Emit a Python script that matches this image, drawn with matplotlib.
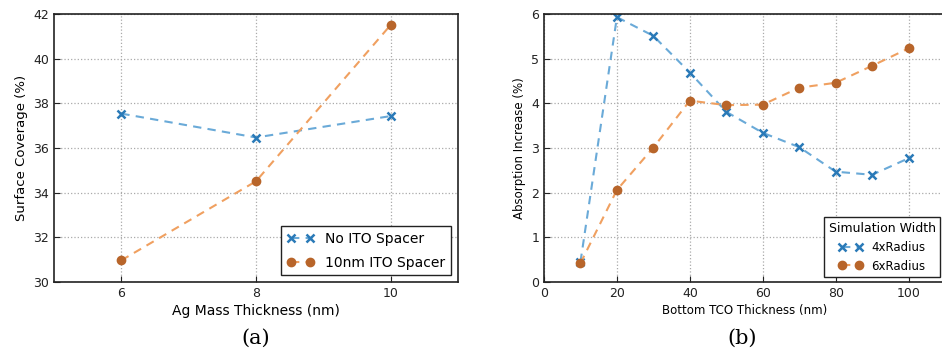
import numpy as np
import matplotlib
matplotlib.use("Agg")
from matplotlib import pyplot as plt

# panel (a)
ag_thick = [6, 8, 10]
no_ito = [37.54, 36.47, 37.43]
ito_10nm = [30.97, 34.51, 41.51]

# panel (b)
tco_thick = [10, 20, 30, 40, 50, 60, 70, 80, 90, 100]
radius4 = [0.45, 5.93, 5.51, 4.69, 3.81, 3.34, 3.02, 2.47, 2.40, 2.77]
radius6 = [0.42, 2.06, 3.01, 4.06, 3.96, 3.97, 4.35, 4.46, 4.84, 5.23]

blue = '#2a7ab8'
blue_line = '#6aaad8'
orange = '#b8652a'
orange_line = '#f0a060'

fig = plt.figure(figsize=(9.42, 3.55), dpi=100)
ax1 = fig.add_axes([54/942, 1-282/355, 404/942, 268/355])
ax2 = fig.add_axes([544/942, 1-282/355, 401/942, 268/355])

def draw(ax, x, y, mk, col, lcol, lab):
    ax.plot(x, y, linestyle=(0, (4, 3)), color=lcol, lw=1.5, marker=mk,
            markersize=6, mew=1.8 if mk == 'x' else 1,
            markerfacecolor=col, markeredgecolor=col, label=lab)

draw(ax1, ag_thick, no_ito, 'x', blue, blue_line, 'No ITO Spacer')
draw(ax1, ag_thick, ito_10nm, 'o', orange, orange_line, '10nm ITO Spacer')
ax1.set_xlim(5, 11)
ax1.set_ylim(30, 42)
ax1.set_xticks([6, 8, 10])
ax1.set_yticks(range(30, 43, 2))
ax1.set_xlabel('Ag Mass Thickness (nm)', fontsize=10, labelpad=3)
ax1.set_ylabel('Surface Coverage (%)', fontsize=9.5)
ax1.legend(loc='lower right', numpoints=2, fontsize=10, fancybox=False,
           edgecolor='#222222', framealpha=1, borderaxespad=0.5,
           labelspacing=0.7, handlelength=2.0)

draw(ax2, tco_thick, radius4, 'x', blue, blue_line, '4xRadius')
draw(ax2, tco_thick, radius6, 'o', orange, orange_line, '6xRadius')
ax2.set_xlim(0, 110)
ax2.set_ylim(0, 6)
ax2.set_xticks(range(0, 101, 20))
ax2.set_xlabel('Bottom TCO Thickness (nm)', fontsize=8.5, labelpad=3)
ax2.set_ylabel('Absorption Increase (%)', fontsize=8.5)
ax2.legend(loc='lower right', numpoints=2, fontsize=8.5, fancybox=False,
           edgecolor='#222222', framealpha=1, title='Simulation Width',
           title_fontsize=9, borderaxespad=0.4, bbox_to_anchor=(1.0, 0))

for ax in (ax1, ax2):
    ax.grid(True, linestyle=':', color='#aaaaaa', lw=0.9)
    ax.tick_params(labelsize=9, direction='in', length=4, colors='#222222')
    for s in ax.spines.values():
        s.set_linewidth(1.2)
        s.set_color('#222222')

fig.text(256/942, 1-338/355, '(a)', ha='center', va='center', family='serif', fontsize=15)
fig.text(742/942, 1-338/355, '(b)', ha='center', va='center', family='serif', fontsize=15)

fig.savefig('out.png', dpi=100)
